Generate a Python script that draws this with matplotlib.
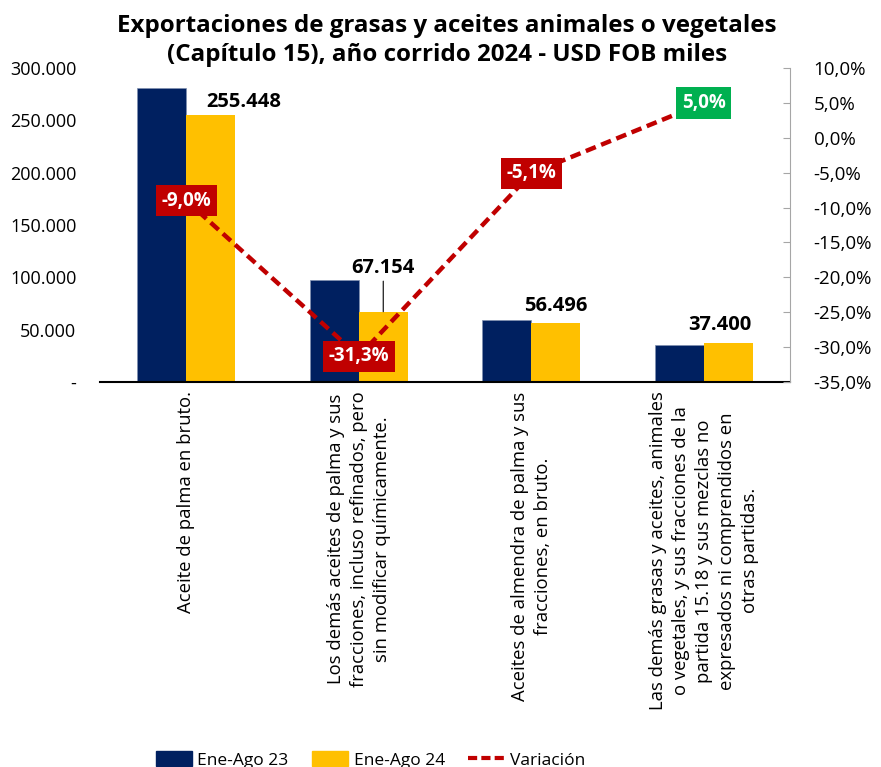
import matplotlib
matplotlib.use('Agg')
import matplotlib.pyplot as plt
from matplotlib.patches import Patch
from matplotlib.lines import Line2D
from matplotlib.ticker import FuncFormatter, MultipleLocator
import matplotlib.transforms as mtransforms

plt.rcParams['font.family'] = ['Open Sans', 'DejaVu Sans']

categorias = [
    "Aceite de palma en bruto.",
    "Los demás aceites de palma y sus\nfracciones, incluso refinados, pero\nsin modificar químicamente.",
    "Aceites de almendra de palma y sus\nfracciones, en bruto.",
    "Las demás grasas y aceites, animales\no vegetales, y sus fracciones de la\npartida 15.18 y sus mezclas no\nexpresados ni comprendidos en\notras partidas.",
]
ene_ago_23 = [280712, 97750, 59532, 35619]
ene_ago_24 = [255448, 67154, 56496, 37400]
variacion = [-0.090, -0.313, -0.051, 0.050]

azul = '#002060'
amarillo = '#FFC000'
rojo = '#C00000'
verde = '#00B050'

fig = plt.figure(figsize=(8.81, 7.67), dpi=100)
ax = fig.add_axes([100/881, 1-382/767, 690/881, 314/767])
ax2 = ax.twinx()

x = list(range(len(categorias)))
w = 0.284
ax.bar([i - w/2 for i in x], ene_ago_23, w, color=azul, edgecolor='#8090b0', linewidth=0.5)
ax.bar([i + w/2 for i in x], ene_ago_24, w, color=amarillo)

ax.set_xlim(-0.5, 3.5)
ax.set_ylim(0, 300000)
ax.yaxis.set_major_locator(MultipleLocator(50000))
def fmt_miles(v, pos):
    if v == 0:
        return '-'
    return f'{v:,.0f}'.replace(',', '.')
ax.yaxis.set_major_formatter(FuncFormatter(fmt_miles))
ax.tick_params(axis='y', length=0, labelsize=13, pad=17)
ax.set_xticks([])
for s in ['top', 'left', 'right']:
    ax.spines[s].set_visible(False)
ax.spines['bottom'].set_linewidth(1.5)

# etiquetas de datos
offsets = [(24, 2), (0, 24), (0, 5), (-6, 6)]
for i, v in enumerate(ene_ago_24):
    lbl = f'{v:,.0f}'.replace(',', '.')
    if i == 1:
        ax.annotate(lbl, (i + w/2, v), xytext=offsets[i], textcoords='offset points',
                    ha='center', va='bottom', fontsize=14.5, fontweight='bold',
                    arrowprops=dict(arrowstyle='-', color='black', lw=0.8, shrinkA=0, shrinkB=0))
    else:
        ax.annotate(lbl, (i + w/2, v), xytext=offsets[i], textcoords='offset points',
                    ha='center', va='bottom', fontsize=14.5, fontweight='bold')

# categorias rotadas
trans = mtransforms.blended_transform_factory(ax.transData, ax.transAxes)
for i, c in enumerate(categorias):
    ax.text(i, -0.03, c, transform=trans, rotation=90, ha='center', va='top',
            multialignment='center', fontsize=13.3, linespacing=1.36)

# variacion
ax2.plot(x, variacion, color=rojo, linestyle=(0, (2.4, 1.3)), linewidth=3.2, zorder=3)
ax2.set_ylim(-0.35, 0.10)
ax2.yaxis.set_major_locator(MultipleLocator(0.05))
ax2.yaxis.set_major_formatter(FuncFormatter(lambda v, p: f'{v*100:.1f}%'.replace('.', ',')))
ax2.tick_params(axis='y', direction='in', length=5, color='#a6a6a6', labelsize=13.5, pad=17)
for s in ['top', 'left', 'bottom']:
    ax2.spines[s].set_visible(False)
ax2.spines['right'].set_color('#a6a6a6')
for i, v in enumerate(variacion):
    lbl = f'{v*100:.1f}%'.replace('.', ',')
    ax2.text(i, v, lbl, ha='center', va='center', fontsize=13.5, fontweight='bold', color='white',
             zorder=5, bbox=dict(boxstyle='square,pad=0.3', fc=verde if v > 0 else rojo, ec='none'))

fig.text(0.507, 0.982, 'Exportaciones de grasas y aceites animales o vegetales\n(Capítulo 15), año corrido 2024 - USD FOB miles',
         ha='center', va='top', fontsize=17.4, fontweight='bold', linespacing=1.3)

handles = [Patch(color=azul), Patch(color=amarillo),
           Line2D([0], [0], color=rojo, linestyle=(0, (2.2, 1.0)), linewidth=3)]
fig.legend(handles, ['Ene-Ago 23', 'Ene-Ago 24', 'Variación'], loc='center left',
           bbox_to_anchor=(140/881, 0.009), ncol=3, frameon=False, fontsize=12.5,
           handlelength=2.1, handleheight=0.9, columnspacing=1.35, handletextpad=0.3)

fig.savefig('out.png', dpi=100)
